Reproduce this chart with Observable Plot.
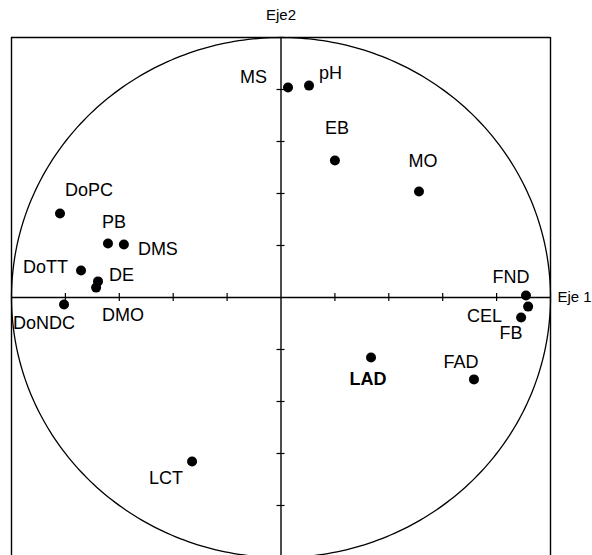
<!DOCTYPE html>
<html><head><meta charset="utf-8">
<script src="https://cdn.jsdelivr.net/npm/d3@7"></script>
<script src="https://cdn.jsdelivr.net/npm/@observablehq/plot@0.6"></script>
<style>body{margin:0;background:#fff;} svg{overflow:visible;}</style>
</head><body><div id="chart"></div>
<script>
// Variables (correlation with Eje 1 and Eje 2)
const names = ["MS","pH","EB","MO","DoPC","PB","DMS","DoTT","DE","DMO","DoNDC","FND","CEL","FB","LAD","FAD","LCT"];
const eje1  = [0.026,0.104,0.200,0.512,-0.820,-0.642,-0.583,-0.742,-0.679,-0.686,-0.805,0.909,0.917,0.891,0.334,0.716,-0.330];
const eje2  = [0.808,0.815,0.527,0.408,0.323,0.208,0.204,0.104,0.062,0.038,-0.027,0.008,-0.035,-0.077,-0.231,-0.315,-0.631];
const tickValues = [-0.8,-0.6,-0.4,-0.2,0.2,0.4,0.6,0.8];
const axisTitles = ["Eje 1","Eje2"];

// label placement (styling): anchor, dx, dy
const place = {
  MS:["end",-21,-10], pH:["start",10,-12], EB:["middle",2,-32], MO:["middle",4,-30],
  DoPC:["start",5,-23], PB:["middle",6,-21], DMS:["start",14,5], DoTT:["end",-13,-3],
  DE:["start",11,-6], DMO:["start",6,28], DoNDC:["start",-51,19], FND:["middle",-15,-18],
  CEL:["end",-26,10], FB:["middle",-10,16], LAD:["middle",-3,22], FAD:["middle",-13,-17],
  LCT:["middle",-26,17]
};

const data = names.map((n,i)=>({name:n, x:eje1[i], y:eje2[i]}));
const circle = d3.range(0, 361, 1).map(a => ({x: Math.cos(a*Math.PI/180), y: Math.sin(a*Math.PI/180)}));

const labelMarks = data.map(d => {
  const [anchor, dx, dy] = place[d.name];
  return Plot.text([d], {x:"x", y:"y", text:"name", textAnchor:anchor, dx, dy,
    fontSize:18, fontWeight: d.name === "LAD" ? "bold" : "normal", fill:"#000"});
});

const chart = Plot.plot({
  width: 592, height: 555,
  marginLeft: 11, marginRight: 42, marginTop: 37, marginBottom: 0,
  style: {fontFamily: "'Liberation Sans', Arial, sans-serif", background: "#fff", overflow: "visible"},
  x: {domain: [-1, 1], axis: null},
  y: {domain: [-1, 1], range: [557, 37], axis: null},
  marks: [
    // frame
    Plot.ruleX([-1, 1], {y1: -1, y2: 1, stroke: "#000", strokeWidth: 1.4}),
    Plot.ruleY([1], {x1: -1, x2: 1, stroke: "#000", strokeWidth: 1.4}),
    // circle
    Plot.line(circle, {x: "x", y: "y", stroke: "#000", strokeWidth: 1.3, curve: "linear"}),
    // axes
    Plot.ruleY([0], {x1: -1, x2: 1, stroke: "#000", strokeWidth: 1.4}),
    Plot.ruleX([0], {y1: -1, y2: 1, stroke: "#000", strokeWidth: 1.4}),
    Plot.ruleX(tickValues, {x: d => d, y1: 0, y2: 0, insetTop: -4, insetBottom: -4, stroke: "#000", strokeWidth: 1.2}),
    Plot.ruleY(tickValues, {y: d => d, x1: 0, x2: 0, insetLeft: -4, insetRight: -4, stroke: "#000", strokeWidth: 1.2}),
    // axis titles
    Plot.text([axisTitles[0]], {x: 1, y: 0, text: d => d, textAnchor: "start", dx: 7, fontSize: 15, fill: "#000"}),
    Plot.text([axisTitles[1]], {x: 0, y: 1, text: d => d, textAnchor: "middle", dy: -22, fontSize: 15, fill: "#000"}),
    // points
    Plot.dot(data, {x: "x", y: "y", r: 5, fill: "#000", stroke: "none"}),
    ...labelMarks
  ]
});
document.getElementById("chart").append(chart);
</script>
</body></html>
